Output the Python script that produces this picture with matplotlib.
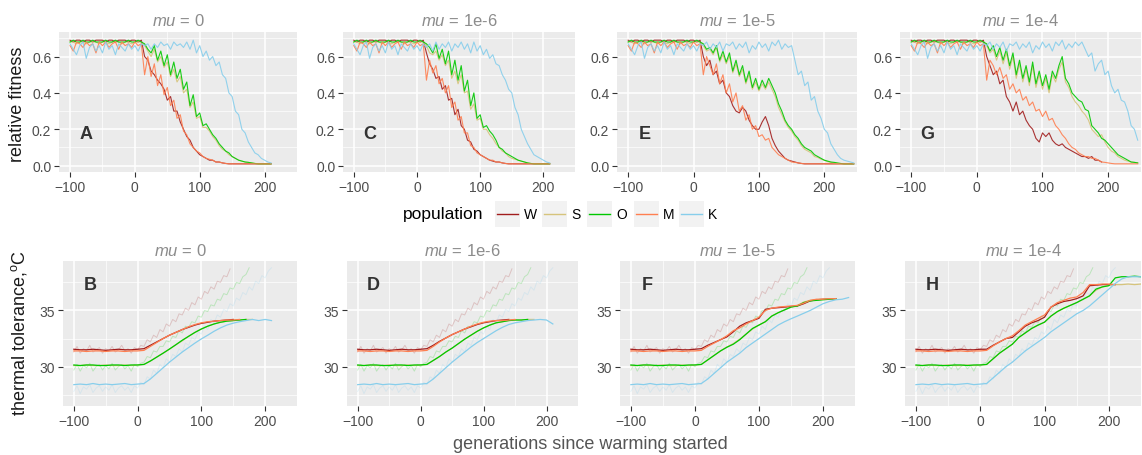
import numpy as np
import matplotlib
matplotlib.use("Agg")
import matplotlib.pyplot as plt
from matplotlib.patches import Rectangle
from matplotlib.lines import Line2D

plt.rcParams['font.family'] = ['Liberation Sans', 'DejaVu Sans']
plt.rcParams['mathtext.fontset'] = 'custom'
plt.rcParams['mathtext.it'] = 'Liberation Sans:italic'
plt.rcParams['mathtext.rm'] = 'Liberation Sans'

# populations and colours
pops = ['W', 'S', 'O', 'M', 'K']
colors = {'W': '#a11d1d', 'S': '#d6c47c', 'O': '#00c800', 'M': '#ff7f50', 'K': '#87ceeb'}
mu_labels = ['0', '1e-6', '1e-5', '1e-4']
top_letters = ['A', 'C', 'E', 'G']
bot_letters = ['B', 'D', 'F', 'H']

# ---- relative fitness, every 5 generations ----
# before warming: -100 .. 10 (same in all panels)
fit_pre_W = [0.69, 0.68, 0.69, 0.69, 0.68, 0.69, 0.69, 0.68, 0.69, 0.69, 0.69, 0.68, 0.69, 0.69, 0.68, 0.69, 0.69, 0.69, 0.68, 0.69, 0.69, 0.68, 0.69]
fit_pre_S = [0.68, 0.68, 0.67, 0.68, 0.68, 0.67, 0.68, 0.68, 0.68, 0.67, 0.68, 0.68, 0.67, 0.68, 0.68, 0.68, 0.67, 0.68, 0.68, 0.67, 0.68, 0.68, 0.68]
fit_pre_O = [0.68, 0.69, 0.68, 0.68, 0.69, 0.68, 0.68, 0.69, 0.68, 0.68, 0.68, 0.69, 0.68, 0.68, 0.69, 0.68, 0.68, 0.68, 0.69, 0.68, 0.68, 0.69, 0.68]
fit_pre_M = [0.66, 0.63, 0.68, 0.67, 0.65, 0.68, 0.66, 0.67, 0.62, 0.68, 0.66, 0.68, 0.65, 0.67, 0.68, 0.64, 0.68, 0.66, 0.67, 0.65, 0.68, 0.66, 0.67]
fit_pre_K = [0.67, 0.64, 0.61, 0.66, 0.68, 0.59, 0.65, 0.67, 0.63, 0.66, 0.62, 0.68, 0.64, 0.66, 0.61, 0.67, 0.65, 0.63, 0.67, 0.64, 0.66, 0.63, 0.67]

# after warming: 15 .. end
fit_A_W = [0.60, 0.58, 0.52, 0.50, 0.47, 0.45, 0.42, 0.36, 0.38, 0.30, 0.30, 0.24, 0.20, 0.16, 0.14, 0.10, 0.08, 0.06, 0.05, 0.04, 0.03, 0.03, 0.02, 0.02, 0.015, 0.012, 0.01, 0.01, 0.01, 0.01, 0.01, 0.01, 0.01, 0.01, 0.01, 0.01, 0.01, 0.01, 0.01, 0.01]
fit_A_S = [0.66, 0.63, 0.60, 0.64, 0.57, 0.60, 0.54, 0.57, 0.49, 0.53, 0.46, 0.49, 0.40, 0.42, 0.32, 0.35, 0.26, 0.27, 0.21, 0.21, 0.19, 0.16, 0.14, 0.11, 0.09, 0.08, 0.06, 0.05, 0.04, 0.03, 0.025, 0.02, 0.018, 0.015, 0.012, 0.01, 0.01, 0.01, 0.01, 0.01]
fit_A_O = [0.67, 0.64, 0.62, 0.66, 0.58, 0.63, 0.55, 0.61, 0.50, 0.57, 0.48, 0.53, 0.42, 0.46, 0.33, 0.39, 0.27, 0.29, 0.22, 0.23, 0.20, 0.17, 0.15, 0.12, 0.10, 0.08, 0.07, 0.05, 0.04, 0.03, 0.025, 0.02, 0.018, 0.015, 0.012, 0.01, 0.01, 0.01, 0.01, 0.01]
fit_A_M = [0.50, 0.60, 0.49, 0.56, 0.44, 0.50, 0.39, 0.43, 0.33, 0.36, 0.26, 0.28, 0.19, 0.17, 0.12, 0.10, 0.08, 0.07, 0.05, 0.04, 0.035, 0.03, 0.02, 0.02, 0.015, 0.012, 0.01, 0.01, 0.01, 0.01, 0.01, 0.01, 0.01, 0.01, 0.01, 0.01, 0.01, 0.01, 0.01, 0.01]
fit_A_K = [0.66, 0.67, 0.64, 0.67, 0.65, 0.68, 0.66, 0.67, 0.64, 0.68, 0.66, 0.67, 0.65, 0.68, 0.64, 0.69, 0.62, 0.66, 0.60, 0.63, 0.58, 0.60, 0.55, 0.57, 0.50, 0.48, 0.40, 0.38, 0.30, 0.28, 0.20, 0.18, 0.13, 0.10, 0.07, 0.06, 0.04, 0.03, 0.02, 0.015]

fit_C_W = [0.62, 0.56, 0.53, 0.48, 0.49, 0.42, 0.44, 0.36, 0.37, 0.28, 0.31, 0.22, 0.20, 0.14, 0.13, 0.09, 0.08, 0.06, 0.05, 0.04, 0.03, 0.025, 0.02, 0.02, 0.015, 0.012, 0.01, 0.01, 0.01, 0.01, 0.01, 0.01, 0.01, 0.01, 0.01, 0.01, 0.01, 0.01, 0.01, 0.01]
fit_C_S = [0.66, 0.62, 0.61, 0.63, 0.58, 0.61, 0.55, 0.58, 0.48, 0.52, 0.45, 0.50, 0.40, 0.41, 0.31, 0.34, 0.25, 0.26, 0.20, 0.20, 0.17, 0.15, 0.12, 0.10, 0.08, 0.07, 0.05, 0.04, 0.035, 0.03, 0.025, 0.02, 0.015, 0.012, 0.01, 0.01, 0.01, 0.01, 0.01, 0.01]
fit_C_O = [0.67, 0.65, 0.62, 0.67, 0.59, 0.64, 0.56, 0.63, 0.50, 0.58, 0.47, 0.55, 0.41, 0.47, 0.33, 0.40, 0.26, 0.28, 0.21, 0.22, 0.19, 0.17, 0.14, 0.10, 0.09, 0.07, 0.06, 0.05, 0.04, 0.03, 0.025, 0.02, 0.015, 0.012, 0.01, 0.01, 0.01, 0.01, 0.01, 0.01]
fit_C_M = [0.47, 0.58, 0.51, 0.55, 0.45, 0.48, 0.40, 0.44, 0.32, 0.35, 0.25, 0.27, 0.18, 0.18, 0.11, 0.10, 0.07, 0.06, 0.05, 0.04, 0.03, 0.03, 0.02, 0.02, 0.015, 0.012, 0.01, 0.01, 0.01, 0.01, 0.01, 0.01, 0.01, 0.01, 0.01, 0.01, 0.01, 0.01, 0.01, 0.01]
fit_C_K = [0.65, 0.67, 0.63, 0.68, 0.64, 0.67, 0.65, 0.68, 0.63, 0.67, 0.65, 0.68, 0.64, 0.67, 0.62, 0.68, 0.63, 0.66, 0.61, 0.64, 0.59, 0.61, 0.56, 0.55, 0.50, 0.47, 0.42, 0.40, 0.32, 0.28, 0.20, 0.16, 0.12, 0.09, 0.06, 0.05, 0.04, 0.03, 0.02, 0.015]

fit_E_W = [0.60, 0.55, 0.58, 0.50, 0.52, 0.45, 0.47, 0.40, 0.38, 0.33, 0.30, 0.29, 0.32, 0.30, 0.25, 0.22, 0.20, 0.20, 0.24, 0.27, 0.22, 0.15, 0.11, 0.08, 0.06, 0.04, 0.03, 0.025, 0.02, 0.015, 0.012, 0.01, 0.01, 0.01, 0.01, 0.01, 0.01, 0.01, 0.01, 0.01, 0.01, 0.01, 0.01, 0.01, 0.01, 0.01, 0.01]
fit_E_S = [0.66, 0.63, 0.64, 0.61, 0.65, 0.57, 0.61, 0.56, 0.60, 0.51, 0.56, 0.49, 0.53, 0.45, 0.50, 0.42, 0.46, 0.41, 0.45, 0.42, 0.46, 0.42, 0.38, 0.32, 0.28, 0.24, 0.21, 0.19, 0.16, 0.14, 0.11, 0.09, 0.08, 0.07, 0.05, 0.045, 0.035, 0.03, 0.022, 0.018, 0.015, 0.012, 0.01, 0.01, 0.01, 0.01, 0.01]
fit_E_O = [0.67, 0.64, 0.65, 0.62, 0.66, 0.58, 0.63, 0.57, 0.62, 0.52, 0.58, 0.50, 0.55, 0.46, 0.52, 0.43, 0.48, 0.42, 0.47, 0.43, 0.48, 0.44, 0.40, 0.34, 0.30, 0.25, 0.22, 0.20, 0.17, 0.15, 0.12, 0.10, 0.09, 0.08, 0.06, 0.05, 0.04, 0.03, 0.025, 0.02, 0.018, 0.015, 0.012, 0.01, 0.01, 0.01, 0.01]
fit_E_M = [0.50, 0.60, 0.55, 0.50, 0.56, 0.45, 0.50, 0.40, 0.45, 0.35, 0.40, 0.30, 0.33, 0.25, 0.28, 0.20, 0.22, 0.16, 0.17, 0.14, 0.15, 0.10, 0.08, 0.06, 0.05, 0.04, 0.03, 0.02, 0.018, 0.015, 0.012, 0.01, 0.01, 0.01, 0.01, 0.01, 0.01, 0.01, 0.01, 0.01, 0.01, 0.01, 0.01, 0.01, 0.01, 0.01, 0.01]
fit_E_K = [0.66, 0.68, 0.64, 0.67, 0.65, 0.68, 0.63, 0.67, 0.66, 0.68, 0.64, 0.67, 0.65, 0.68, 0.62, 0.66, 0.64, 0.68, 0.65, 0.67, 0.63, 0.68, 0.66, 0.69, 0.64, 0.67, 0.65, 0.66, 0.58, 0.50, 0.52, 0.44, 0.46, 0.36, 0.38, 0.30, 0.26, 0.20, 0.18, 0.12, 0.09, 0.06, 0.04, 0.03, 0.025, 0.02, 0.015]

fit_G_W = [0.60, 0.55, 0.50, 0.52, 0.45, 0.47, 0.38, 0.35, 0.30, 0.35, 0.28, 0.30, 0.25, 0.22, 0.20, 0.15, 0.13, 0.18, 0.16, 0.18, 0.14, 0.12, 0.11, 0.12, 0.10, 0.09, 0.08, 0.07, 0.06, 0.05, 0.05, 0.04, 0.05, 0.03, 0.03, 0.02]
fit_G_S = [0.66, 0.62, 0.64, 0.58, 0.63, 0.56, 0.62, 0.53, 0.60, 0.48, 0.56, 0.46, 0.53, 0.44, 0.55, 0.43, 0.50, 0.42, 0.48, 0.40, 0.50, 0.46, 0.53, 0.57, 0.46, 0.43, 0.38, 0.35, 0.33, 0.30, 0.28, 0.25, 0.20, 0.18, 0.16, 0.17, 0.13, 0.10, 0.08, 0.07, 0.05, 0.04, 0.03, 0.025, 0.02, 0.018, 0.015]
fit_G_O = [0.67, 0.63, 0.66, 0.60, 0.65, 0.58, 0.64, 0.55, 0.62, 0.50, 0.58, 0.48, 0.55, 0.46, 0.57, 0.45, 0.52, 0.44, 0.50, 0.42, 0.52, 0.48, 0.55, 0.60, 0.48, 0.45, 0.40, 0.38, 0.36, 0.35, 0.31, 0.30, 0.22, 0.20, 0.18, 0.15, 0.14, 0.12, 0.10, 0.08, 0.06, 0.05, 0.04, 0.03, 0.02, 0.018, 0.015]
fit_G_M = [0.47, 0.58, 0.55, 0.50, 0.54, 0.48, 0.50, 0.42, 0.45, 0.40, 0.42, 0.36, 0.38, 0.33, 0.35, 0.30, 0.31, 0.27, 0.30, 0.25, 0.26, 0.22, 0.20, 0.17, 0.15, 0.12, 0.10, 0.09, 0.07, 0.06, 0.05, 0.05, 0.04, 0.04, 0.03, 0.02, 0.018, 0.015, 0.012, 0.01, 0.01, 0.01, 0.01, 0.01, 0.01, 0.01, 0.01]
fit_G_K = [0.66, 0.68, 0.64, 0.67, 0.65, 0.68, 0.63, 0.67, 0.66, 0.68, 0.64, 0.67, 0.65, 0.68, 0.62, 0.66, 0.64, 0.68, 0.65, 0.67, 0.63, 0.68, 0.66, 0.69, 0.64, 0.67, 0.65, 0.68, 0.66, 0.68, 0.64, 0.60, 0.62, 0.52, 0.56, 0.58, 0.50, 0.52, 0.44, 0.40, 0.42, 0.36, 0.35, 0.30, 0.22, 0.20, 0.14]

fit_post = [
    {'W': fit_A_W, 'S': fit_A_S, 'O': fit_A_O, 'M': fit_A_M, 'K': fit_A_K},
    {'W': fit_C_W, 'S': fit_C_S, 'O': fit_C_O, 'M': fit_C_M, 'K': fit_C_K},
    {'W': fit_E_W, 'S': fit_E_S, 'O': fit_E_O, 'M': fit_E_M, 'K': fit_E_K},
    {'W': fit_G_W, 'S': fit_G_S, 'O': fit_G_O, 'M': fit_G_M, 'K': fit_G_K},
]
fit_pre = {'W': fit_pre_W, 'S': fit_pre_S, 'O': fit_pre_O, 'M': fit_pre_M, 'K': fit_pre_K}

# ---- thermal tolerance, every 10 generations ----
# before warming: -100 .. 0
tol_pre_W = [31.55, 31.5, 31.5, 31.55, 31.5, 31.45, 31.5, 31.55, 31.5, 31.5, 31.55]
tol_pre_S = [30.1, 30.1, 30.15, 30.1, 30.1, 30.15, 30.1, 30.1, 30.15, 30.1, 30.15]
tol_pre_O = [30.15, 30.1, 30.15, 30.15, 30.1, 30.1, 30.15, 30.15, 30.1, 30.15, 30.15]
tol_pre_M = [31.4, 31.4, 31.35, 31.4, 31.4, 31.35, 31.4, 31.4, 31.35, 31.4, 31.4]
tol_pre_K = [28.4, 28.45, 28.4, 28.5, 28.4, 28.45, 28.4, 28.45, 28.5, 28.4, 28.45]

# after warming: 10 .. end
tol_B_W = [31.6, 31.9, 32.2, 32.5, 32.8, 33.05, 33.3, 33.5, 33.7, 33.85, 33.95, 34.05, 34.1, 34.15, 34.2]
tol_B_S = [30.2, 30.5, 30.85, 31.2, 31.55, 31.95, 32.3, 32.7, 33.05, 33.35, 33.6, 33.8, 33.95, 34.05, 34.1, 34.15, 34.2, 34.2]
tol_B_O = [30.2, 30.5, 30.85, 31.2, 31.57, 31.95, 32.35, 32.7, 33.05, 33.35, 33.6, 33.8, 33.95, 34.05, 34.1, 34.15, 34.2]
tol_B_M = [31.45, 31.8, 32.15, 32.5, 32.8, 33.05, 33.3, 33.55, 33.75, 33.9, 34.0, 34.05, 34.1, 34.15, 34.15, 34.2]
tol_B_K = [28.5, 28.9, 29.4, 29.9, 30.4, 30.85, 31.3, 31.7, 32.1, 32.47, 32.8, 33.15, 33.45, 33.7, 33.87, 34.0, 34.1, 34.2, 34.1, 34.2, 34.1]

tol_D_W = [31.6, 31.9, 32.25, 32.55, 32.85, 33.1, 33.35, 33.55, 33.75, 33.9, 34.0, 34.1, 34.15, 34.2]
tol_D_S = [30.2, 30.55, 30.9, 31.3, 31.65, 32.05, 32.45, 32.8, 33.15, 33.45, 33.7, 33.9, 34.0, 34.1, 34.15, 34.15, 34.2, 34.2]
tol_D_O = [30.2, 30.55, 30.9, 31.3, 31.65, 32.05, 32.45, 32.8, 33.15, 33.45, 33.7, 33.9, 34.0, 34.1, 34.15, 34.15, 34.2]
tol_D_M = [31.45, 31.8, 32.2, 32.55, 32.85, 33.1, 33.35, 33.6, 33.8, 33.95, 34.05, 34.1, 34.1, 34.15, 34.2]
tol_D_K = [28.5, 28.9, 29.4, 29.9, 30.4, 30.85, 31.3, 31.75, 32.15, 32.5, 32.85, 33.2, 33.5, 33.75, 33.9, 34.0, 34.1, 34.15, 34.2, 34.15, 33.8]

tol_F_W = [31.6, 31.9, 32.15, 32.4, 32.65, 33.1, 33.6, 33.9, 34.1, 34.3, 35.1, 35.2, 35.25, 35.3, 35.35, 35.4, 35.6, 35.85, 35.95, 36.0, 36.05, 36.05]
tol_F_S = [30.2, 30.6, 31.0, 31.4, 31.75, 32.05, 32.45, 32.9, 33.35, 33.7, 34.0, 34.5, 34.8, 35.05, 35.3, 35.45, 35.75, 35.9, 35.95, 36.0, 36.05, 36.05]
tol_F_O = [30.2, 30.6, 31.0, 31.4, 31.73, 32.0, 32.4, 32.9, 33.4, 33.7, 34.0, 34.5, 34.8, 35.05, 35.3, 35.4, 35.7, 35.85, 35.9, 35.95, 36.0, 36.05]
tol_F_M = [31.45, 31.8, 32.1, 32.4, 32.75, 33.2, 33.45, 33.8, 34.1, 34.4, 35.0, 35.2, 35.3, 35.35, 35.4, 35.45, 35.65, 35.9, 36.0, 36.0, 36.05, 36.05]
tol_F_K = [28.5, 28.9, 29.4, 29.9, 30.4, 30.8, 31.2, 31.7, 32.1, 32.5, 32.9, 33.3, 33.7, 34.0, 34.26, 34.5, 34.75, 35.0, 35.3, 35.6, 35.8, 35.95, 36.0, 36.15]

tol_H_W = [31.55, 31.9, 32.2, 32.5, 32.6, 33.1, 33.6, 33.9, 34.1, 34.4, 35.3, 35.6, 35.8, 35.9, 36.05, 36.3, 37.2, 37.25, 37.3, 37.3, 37.3]
tol_H_S = [30.2, 30.7, 31.2, 31.6, 32.0, 32.6, 33.0, 33.4, 33.7, 33.96, 34.5, 34.9, 35.2, 35.45, 35.7, 36.0, 36.3, 36.8, 37.1, 37.25, 37.3, 37.3, 37.35, 37.3, 37.35]
tol_H_O = [30.2, 30.7, 31.2, 31.6, 32.0, 32.6, 33.0, 33.4, 33.7, 33.96, 34.5, 34.9, 35.2, 35.45, 35.7, 36.0, 36.3, 36.9, 37.1, 37.2, 37.9, 38.0, 38.0, 38.05, 38.0]
tol_H_M = [31.45, 31.85, 32.2, 32.5, 32.75, 33.2, 33.7, 34.0, 34.3, 34.6, 35.3, 35.7, 35.9, 36.1, 36.2, 36.6, 37.3, 37.3, 37.35, 37.35, 37.3]
tol_H_K = [28.5, 29.0, 29.5, 30.0, 30.4, 30.9, 31.4, 31.8, 32.2, 32.6, 33.1, 33.5, 33.9, 34.3, 34.7, 35.0, 35.4, 35.9, 36.4, 36.9, 37.4, 37.8, 38.0, 38.0, 38.0]

tol_post = [
    {'W': tol_B_W, 'S': tol_B_S, 'O': tol_B_O, 'M': tol_B_M, 'K': tol_B_K},
    {'W': tol_D_W, 'S': tol_D_S, 'O': tol_D_O, 'M': tol_D_M, 'K': tol_D_K},
    {'W': tol_F_W, 'S': tol_F_S, 'O': tol_F_O, 'M': tol_F_M, 'K': tol_F_K},
    {'W': tol_H_W, 'S': tol_H_S, 'O': tol_H_O, 'M': tol_H_M, 'K': tol_H_K},
]
tol_pre = {'W': tol_pre_W, 'S': tol_pre_S, 'O': tol_pre_O, 'M': tol_pre_M, 'K': tol_pre_K}

# ---- local temperature (faded lines), every 5 generations from -100 ----
temp_W = [31.3, 31.8, 31.2, 31.6, 31.4, 31.9, 31.3, 31.5, 31.7, 31.2, 31.6, 31.4, 31.8, 31.3, 31.5, 31.9, 31.4, 31.6, 31.2, 31.7, 31.5,
          31.9, 31.8, 32.4, 32.2, 32.8, 32.6, 33.3, 33.1, 33.8, 33.6, 34.2, 34.0, 34.7, 34.6, 35.2, 35.0, 35.7, 35.5, 36.2, 36.0, 36.7, 36.5, 37.1, 36.9, 37.6, 37.5, 38.1, 38.0, 38.7]
temp_O = [29.7, 30.2, 29.6, 30.1, 29.9, 30.3, 29.6, 30.0, 30.2, 29.7, 30.1, 29.8, 30.3, 29.7, 30.0, 30.2, 29.8, 30.1, 29.6, 30.2, 30.0,
          30.3, 30.4, 30.9, 30.8, 31.4, 31.3, 31.8, 31.8, 32.3, 32.2, 32.7, 32.6, 33.2, 33.0, 33.6, 33.5, 34.0, 33.9, 34.5, 34.4, 35.0, 34.9, 35.5, 35.4, 36.0, 35.9, 36.5, 36.4, 37.0, 36.9, 37.5, 37.4, 38.0, 38.2, 38.8]
temp_K = [27.8, 28.3, 27.6, 28.2, 28.0, 28.4, 27.7, 28.1, 28.3, 27.8, 28.2, 27.9, 28.4, 27.7, 28.1, 28.3, 27.9, 28.2, 27.7, 28.3, 28.1,
          28.6, 28.4, 29.1, 28.9, 29.7, 29.4, 30.2, 29.9, 30.7, 30.4, 31.1, 30.9, 31.6, 31.3, 32.1, 31.9, 32.6, 32.4, 33.1, 32.9, 33.6, 33.3, 34.2, 33.9, 34.6, 34.4, 35.1, 34.9, 35.6, 35.4, 36.1, 35.9, 36.6, 36.4, 37.1, 36.8, 37.6, 37.4, 38.1, 37.9, 38.5, 38.8]
temp_series = {'W': temp_W, 'O': temp_O, 'K': temp_K}

# ---- layout (pixels of a 1142x456 figure) ----
W_PX, H_PX = 1142, 456
fig = plt.figure(figsize=(W_PX / 100, H_PX / 100), dpi=100)

top_boxes = [(59, 297), (343, 575), (617, 857), (900, 1141)]
bot_boxes = [(63, 297), (347, 578), (620, 855), (905, 1141)]


def add_panel(l, r, t, b):
    return fig.add_axes([l / W_PX, 1 - b / H_PX, (r - l) / W_PX, (b - t) / H_PX])


def gg_style(ax):
    ax.set_facecolor('#ebebeb')
    for s in ax.spines.values():
        s.set_visible(False)
    ax.grid(True, which='major', color='white', linewidth=1.1)
    ax.grid(True, which='minor', color='white', linewidth=0.5)
    ax.set_axisbelow(True)
    ax.tick_params(which='major', length=3.5, width=0.8, color='#333333', labelcolor='#4d4d4d',
                   labelsize=10, pad=2)
    ax.tick_params(which='minor', length=0)
    ax.set_xlim(-117, 250)
    ax.set_xticks([-100, 0, 100, 200])
    ax.set_xticks([-50, 50, 150, 250], minor=True)


for i in range(4):
    # fitness panels
    ax = add_panel(top_boxes[i][0], top_boxes[i][1], 33, 173)
    gg_style(ax)
    for p in pops:
        y = np.array(fit_pre[p] + fit_post[i][p])
        x = -100 + 5 * np.arange(len(y))
        ax.plot(x, y, color=colors[p], lw=0.8, alpha=0.9)
    ax.set_ylim(-0.035, 0.735)
    ax.set_yticks([0.0, 0.2, 0.4, 0.6])
    ax.set_yticklabels(['0.0', '0.2', '0.4', '0.6'])
    ax.set_yticks([0.1, 0.3, 0.5, 0.7], minor=True)
    ax.set_title(r'$\mathit{mu}$ = ' + mu_labels[i], color='#8c8c8c', fontsize=12, pad=5)
    ax.text(-75, 0.175, top_letters[i], fontsize=13, fontweight='bold', color='#333333',
            ha='center', va='center')

    # tolerance panels
    ax = add_panel(bot_boxes[i][0], bot_boxes[i][1], 262, 407)
    gg_style(ax)
    for p, ys in temp_series.items():
        x = -100 + 5 * np.arange(len(ys))
        ax.plot(x, ys, color=colors[p], lw=0.7, alpha=0.2)
    for p in pops:
        y = np.array(tol_pre[p] + tol_post[i][p])
        x = -100 + 10 * np.arange(len(y))
        ax.plot(x, y, color=colors[p], lw=0.9)
    ax.set_ylim(26.5, 39.4)
    ax.set_yticks([30, 35])
    ax.set_yticks([27.5, 32.5, 37.5], minor=True)
    ax.set_title(r'$\mathit{mu}$ = ' + mu_labels[i], color='#8c8c8c', fontsize=12, pad=4)
    ax.text(-75, 37.3, bot_letters[i], fontsize=13, fontweight='bold', color='#333333',
            ha='center', va='center')

fig.text(18 / W_PX, 1 - 104 / H_PX, 'relative fitness', rotation=90, ha='center', va='center',
         fontsize=13, color='#1a1a1a')
fig.text(19 / W_PX, 1 - 333 / H_PX, 'thermal tolerance,$^{\\mathrm{o}}$C', rotation=90,
         ha='center', va='center', fontsize=13, color='#1a1a1a')
fig.text(590 / W_PX, 1 - 445 / H_PX, 'generations since warming started', ha='center',
         va='center', fontsize=13, color='#555555')

# legend row
fig.text(403 / W_PX, 1 - 215 / H_PX, 'population', ha='left', va='center', fontsize=12.5)
key_left = {'W': 495, 'S': 542, 'O': 587, 'M': 634, 'K': 679}
for p in pops:
    kl = key_left[p]
    fig.add_artist(Rectangle((kl / W_PX, 1 - 228 / H_PX), 25 / W_PX, 26 / H_PX,
                             transform=fig.transFigure, facecolor='#f2f2f2', edgecolor='none'))
    fig.add_artist(Line2D([(kl + 2) / W_PX, (kl + 23) / W_PX], [1 - 215 / H_PX, 1 - 215 / H_PX],
                          transform=fig.transFigure, color=colors[p], lw=1.0))
    fig.text((kl + 29) / W_PX, 1 - 215 / H_PX, p, ha='left', va='center', fontsize=10)

fig.savefig('out.png', dpi=100)
